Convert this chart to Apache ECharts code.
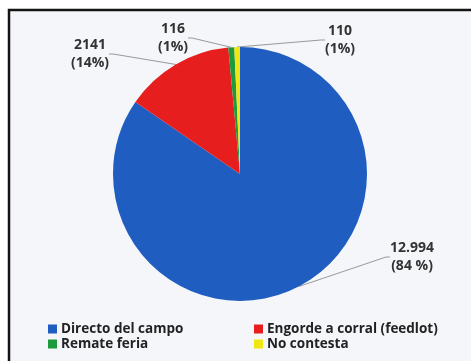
<!DOCTYPE html>
<html><head><meta charset="utf-8">
<script src="https://cdn.jsdelivr.net/npm/echarts@6/dist/echarts.min.js"></script>
<style>html,body{margin:0;padding:0;background:#fff}#c{width:471px;height:361px}</style>
</head><body><div id="c"></div>
<script>
var categories = ['Directo del campo', 'Engorde a corral (feedlot)', 'Remate feria', 'No contesta'];
var values = [12994, 2141, 116, 110];
var valueLabels = ['12.994', '2141', '116', '110'];
var percentLabels = ['(84 %)', '(14%)', '(1%)', '(1%)'];
var colors = ['#1f5dc0', '#e61e1e', '#1e9a3c', '#f0e612'];
var labelPos = [[412, 257], [90, 54], [173, 38], [340, 40]];

var chart = echarts.init(document.getElementById('c'));
var data = categories.map(function (n, i) {
  return { name: n, value: values[i], itemStyle: { color: colors[i] } };
});
var legendText = { fontFamily: 'Open Sans', fontSize: 13.5, fontWeight: 'bold', color: '#222', padding: [0, 0, 0, -1] };
chart.setOption({
  backgroundColor: '#fff',
  animation: false,
  graphic: [{
    type: 'rect', z: -10, silent: true,
    shape: { x: 9, y: 10, width: 470, height: 360 },
    style: { fill: '#f4f6f9', stroke: '#141414', lineWidth: 2.5 }
  }],
  legend: [{
    orient: 'vertical', left: 43, top: 317, itemWidth: 9, itemHeight: 9, itemGap: 1,
    icon: 'rect', data: [categories[0], categories[2]], textStyle: legendText
  }, {
    orient: 'vertical', left: 249, top: 317, itemWidth: 9, itemHeight: 9, itemGap: 1,
    icon: 'rect', data: [categories[1], categories[3]], textStyle: legendText
  }],
  series: [{
    type: 'pie',
    center: [240, 174],
    radius: 127,
    startAngle: 90,
    clockwise: true,
    data: data,
    label: {
      show: true,
      formatter: function (p) { return valueLabels[p.dataIndex] + '\n' + percentLabels[p.dataIndex]; },
      fontFamily: 'Open Sans', fontSize: 14, fontWeight: 'bold', color: '#333',
      lineHeight: 18, align: 'center'
    },
    labelLine: { show: true, length: 8, length2: 4, lineStyle: { color: '#999', width: 1 } },
    labelLayout: function (p) {
      var pos = labelPos[p.dataIndex];
      return { x: pos[0], y: pos[1], align: 'center', verticalAlign: 'middle' };
    }
  }]
});
</script></body></html>
